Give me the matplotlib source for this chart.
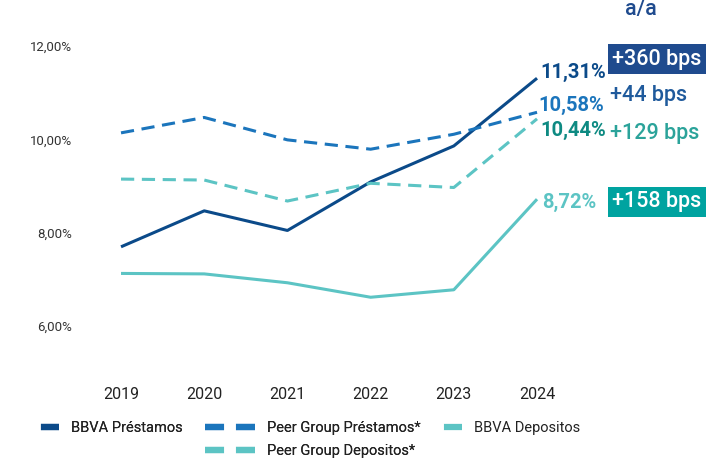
import matplotlib
matplotlib.use("Agg")
import matplotlib.pyplot as plt
from matplotlib.lines import Line2D

plt.rcParams["font.family"] = ["Roboto", "DejaVu Sans"]
plt.rcParams["lines.scale_dashes"] = False

# --- data ---
years = [2019, 2020, 2021, 2022, 2023, 2024]
bbva_prestamos = [7.70, 8.47, 8.05, 9.09, 9.86, 11.31]
peer_prestamos = [10.14, 10.47, 9.99, 9.79, 10.11, 10.58]
bbva_depositos = [7.13, 7.12, 6.93, 6.62, 6.78, 8.72]
peer_depositos = [9.15, 9.13, 8.68, 9.06, 8.97, 10.44]
bps_change = [360, 44, 129, 158]  # prestamos, peer prestamos, peer depositos, depositos
yticks = [6, 8, 10, 12]

# --- colours ---
navy = "#0b4a89"
blue = "#1b75bc"
teal_light = "#5cc4c4"
teal_dark = "#0e8a82"
box_navy = "#1f4b8e"
box_teal = "#00a3a0"

W, H = 708, 459
fig = plt.figure(figsize=(W / 100, H / 100), dpi=100)
ax = fig.add_axes([80 / W, (H - 372.9) / H, 480 / W, 350.25 / H])

ax.plot(years, bbva_prestamos, color=navy, lw=2.2, solid_capstyle="butt")
ax.plot(years, peer_prestamos, color=blue, lw=2.2, dashes=(9.5, 5.5))
ax.plot(years, bbva_depositos, color=teal_light, lw=2.2, solid_capstyle="butt")
ax.plot(years, peer_depositos, color=teal_light, lw=2.2, dashes=(9.5, 5.5))

ax.set_xlim(2018.507, 2024.276)
ax.set_ylim(5.0, 12.5)
ax.set_xticks(years)
ax.set_xticklabels([str(y) for y in years], fontsize=11.5, color="#222222")
ax.set_yticks(yticks)
ax.set_yticklabels([f"{v:.2f}".replace(".", ",") + "%" for v in yticks],
                   fontsize=9.5, color="#333333")
ax.tick_params(axis="x", length=0, pad=10)
ax.tick_params(axis="y", length=0, pad=5.8)
for s in ax.spines.values():
    s.set_visible(False)


def pct(v):
    return f"{v:.2f}".replace(".", ",") + "%"


# end-of-line value labels
end_labels = [
    (bbva_prestamos[-1], navy, (2.5, 4.5)),
    (peer_prestamos[-1], blue, (1.0, 5.0)),
    (peer_depositos[-1], teal_dark, (2.5, -8.0)),
    (bbva_depositos[-1], teal_light, (3.5, -2.0)),
]
for v, c, off in end_labels:
    ax.annotate(pct(v), xy=(years[-1], v), xytext=off, textcoords="offset points",
                ha="left", va="center", fontsize=14.5, fontweight="bold", color=c,
                annotation_clip=False)

# bps changes
bps_kw = dict(fontsize=15.5, fontweight="medium", ha="left", va="center")
fig.text(612 / W, 1 - 59 / H, f"+{bps_change[0]} bps", color="white",
         bbox=dict(boxstyle="square,pad=0.2", fc=box_navy, ec="none"), **bps_kw)
fig.text(610 / W, 1 - 95 / H, f"+{bps_change[1]} bps", color="#1f5a9c", **bps_kw)
fig.text(610 / W, 1 - 133 / H, f"+{bps_change[2]} bps", color="#2ba39a", **bps_kw)
fig.text(612 / W, 1 - 202 / H, f"+{bps_change[3]} bps", color="white",
         bbox=dict(boxstyle="square,pad=0.2", fc=box_teal, ec="none"), **bps_kw)

fig.text(641 / W, 1 - 10 / H, "a/a", fontsize=15.5, fontweight="medium",
         color=box_navy, ha="center", va="center")

# --- legend ---
solid_ls = (13, (13, 23))
dash_ls = (0, (13.7, 8.6))
h_bp = Line2D([], [], color=navy, lw=4.5, linestyle=solid_ls)
h_blank = Line2D([], [], color="none")
h_pp = Line2D([], [], color=blue, lw=4.5, linestyle=dash_ls)
h_pd = Line2D([], [], color=teal_light, lw=4.5, linestyle=dash_ls)
h_bd = Line2D([], [], color=teal_light, lw=4.5, linestyle=solid_ls)

leg_kw = dict(frameon=False, fontsize=10.5, handlelength=3.43, handletextpad=0.8,
              borderpad=0, borderaxespad=0, labelspacing=0.65, labelcolor="#222222")
leg1 = fig.legend([h_bp, h_blank, h_pp, h_pd],
                  ["BBVA Préstamos", "", "Peer Group Préstamos*", "Peer Group Depositos*"],
                  ncol=2, columnspacing=1.55, loc="upper left",
                  bbox_to_anchor=(9 / W, 1 - 421 / H), **leg_kw)
fig.add_artist(leg1)
fig.legend([h_bd], ["BBVA Depositos"], loc="upper left",
           bbox_to_anchor=(412 / W, 1 - 421 / H), **leg_kw)

fig.savefig("out.png", dpi=100)
